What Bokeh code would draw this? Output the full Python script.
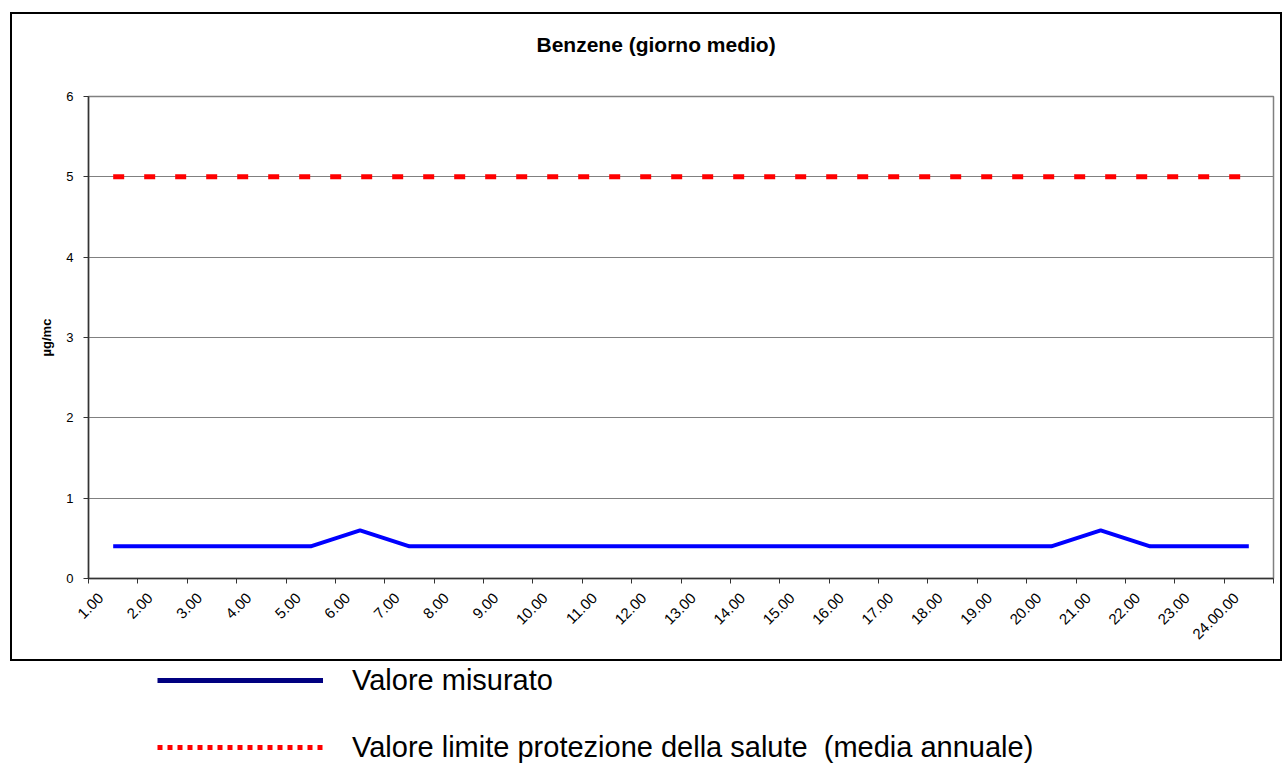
import math
from bokeh.plotting import figure
from bokeh.layouts import column
from bokeh.models import (Range1d, LinearAxis, FixedTicker, Legend, LegendItem, Grid, Title)
from bokeh.embed import file_html
from bokeh.resources import INLINE

# ---- data ----
hours = ["1.00", "2.00", "3.00", "4.00", "5.00", "6.00", "7.00", "8.00",
         "9.00", "10.00", "11.00", "12.00", "13.00", "14.00", "15.00", "16.00",
         "17.00", "18.00", "19.00", "20.00", "21.00", "22.00", "23.00", "24.00.00"]
measured = [0.4, 0.4, 0.4, 0.4, 0.4, 0.6, 0.4, 0.4, 0.4, 0.4, 0.4, 0.4,
            0.4, 0.4, 0.4, 0.4, 0.4, 0.4, 0.4, 0.4, 0.6, 0.4, 0.4, 0.4]
limit = [5, 5, 5, 5, 5, 5, 5, 5, 5, 5, 5, 5,
         5, 5, 5, 5, 5, 5, 5, 5, 5, 5, 5, 5]
y_ticks = [0, 1, 2, 3, 4, 5, 6]
title_text = "Benzene (giorno medio)"
y_label = "µg/mc"
legend_labels = ["Valore misurato",
                 "Valore limite protezione della salute  (media annuale)"]

FONT = "Liberation Sans"
n = len(hours)
xc = [i + 0.5 for i in range(n)]          # category centres
label_pos = [i + 0.25 for i in range(n)]  # label anchors
bounds = [i for i in range(n + 1)]        # category boundaries

# ---- chart (inside the black box) ----
p = figure(width=1268, height=645, output_backend="svg", toolbar_location=None,
           title=None,
           x_range=Range1d(0, n), y_range=Range1d(0, 6),
           x_axis_type=None, y_axis_type=None,
           min_border_left=76, min_border_right=11,
           min_border_top=82, min_border_bottom=85,
           margin=(12, 2, 0, 10),
           styles={"border": "2px solid black", "box-sizing": "content-box"})
p.background_fill_color = "white"
p.border_fill_color = "white"
p.outline_line_color = "#808080"
p.outline_line_width = 1.5

xaxis = LinearAxis(ticker=FixedTicker(ticks=label_pos, minor_ticks=bounds),
                   major_label_overrides={lp: h for lp, h in zip(label_pos, hours)})
xaxis.major_tick_out = 0
xaxis.major_tick_in = 0
xaxis.minor_tick_out = 5
xaxis.minor_tick_in = 0
xaxis.minor_tick_line_color = "#333333"
xaxis.axis_line_color = "#333333"
xaxis.axis_line_width = 1.5
xaxis.major_label_orientation = math.pi / 4
xaxis.major_label_text_font = FONT
xaxis.major_label_text_font_size = "15px"
xaxis.major_label_text_color = "black"
xaxis.major_label_standoff = 12
p.add_layout(xaxis, "below")

yaxis = LinearAxis(ticker=FixedTicker(ticks=y_ticks), axis_label=y_label)
yaxis.major_tick_out = 5
yaxis.major_tick_in = 0
yaxis.minor_tick_out = 0
yaxis.minor_tick_in = 0
yaxis.major_tick_line_color = "#333333"
yaxis.axis_line_color = "#333333"
yaxis.axis_line_width = 1.5
yaxis.major_label_text_font = FONT
yaxis.major_label_text_font_size = "13px"
yaxis.major_label_text_color = "black"
yaxis.major_label_standoff = 10
yaxis.axis_label_text_font = FONT
yaxis.axis_label_text_font_size = "13px"
yaxis.axis_label_text_font_style = "bold"
yaxis.axis_label_text_color = "black"
yaxis.axis_label_standoff = 9
p.add_layout(yaxis, "left")

grid = Grid(dimension=1, ticker=yaxis.ticker, grid_line_color="#808080", grid_line_width=1)
p.add_layout(grid)

# spacer between frame and title, then the title itself
p.add_layout(Title(text=" ", text_font_size="1px", standoff=33), "above")
p.add_layout(Title(text=title_text, align="left", offset=448,
                   text_font=FONT, text_font_size="21px", text_font_style="bold",
                   text_color="black", standoff=10), "above")

p.line(x=xc, y=limit, line_color="#FF0000", line_width=5, line_dash="11 20")
p.line(x=xc, y=measured, line_color="#0000FF", line_width=4)

# ---- legend strip below the box ----
q = figure(width=1284, height=102, output_backend="svg", toolbar_location=None,
           x_range=Range1d(0, n), y_range=Range1d(10, 11),
           x_axis_type=None, y_axis_type=None,
           min_border_left=76, min_border_right=0,
           min_border_top=0, min_border_bottom=0)
q.outline_line_color = None
q.background_fill_color = "white"
q.border_fill_color = "white"
# legend proxies (their data lies outside this strip's view)
leg_meas = q.line(x=xc, y=measured, line_color="#000080", line_width=5)
leg_lim = q.line(x=xc, y=limit, line_color="#FF0000", line_width=5, line_dash="5 5")
legend = Legend(items=[LegendItem(label=legend_labels[0], renderers=[leg_meas]),
                       LegendItem(label=legend_labels[1], renderers=[leg_lim])],
                location=(81, -1), orientation="vertical",
                glyph_width=166, glyph_height=34, label_height=34,
                label_standoff=29, spacing=33, padding=0, margin=0,
                border_line_alpha=0, background_fill_alpha=0,
                label_text_font=FONT, label_text_font_size="29px",
                label_text_color="black")
q.add_layout(legend, "center")

layout = column(p, q, spacing=0)
open("out.html", "w").write(file_html(layout, INLINE))
